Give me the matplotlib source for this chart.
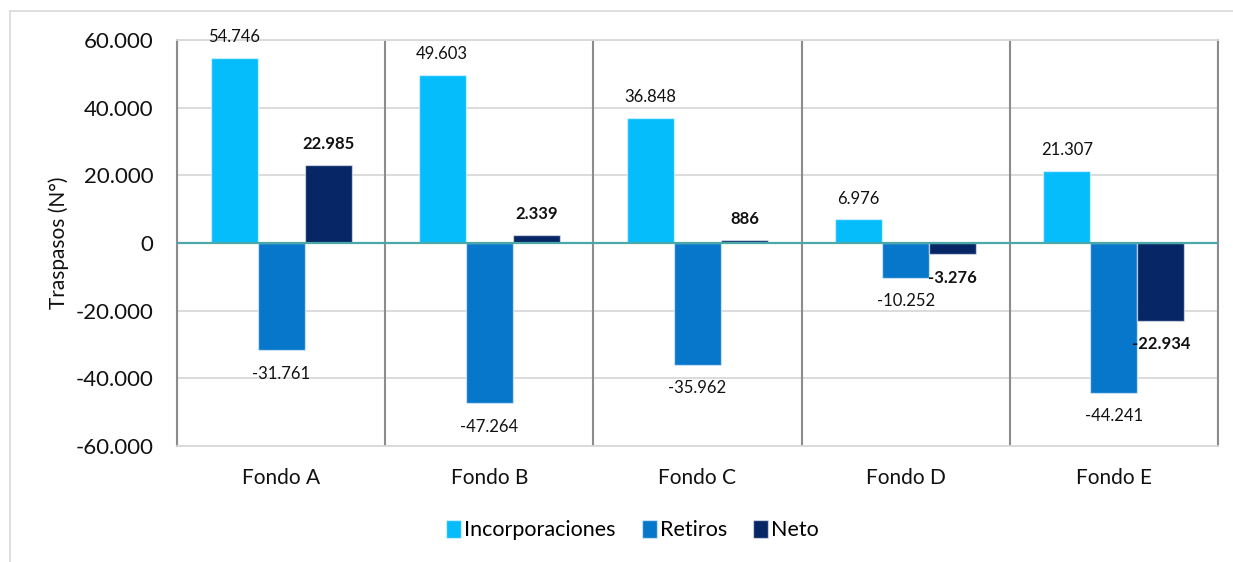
import matplotlib
matplotlib.use("Agg")
import matplotlib.pyplot as plt
from matplotlib.lines import Line2D
import numpy as np

plt.rcParams['font.family'] = ['Lato', 'DejaVu Sans']

# datos
fondos = ['Fondo A', 'Fondo B', 'Fondo C', 'Fondo D', 'Fondo E']
incorporaciones = [54746, 49603, 36848, 6976, 21307]
retiros = [-31761, -47264, -35962, -10252, -44241]
neto = [22985, 2339, 886, -3276, -22934]
y_ticks = [-60000, -40000, -20000, 0, 20000, 40000, 60000]

series = [
    ('Incorporaciones', incorporaciones, '#05BDFB', 'normal'),
    ('Retiros', retiros, '#0677CB', 'normal'),
    ('Neto', neto, '#062666', 'bold'),
]


def miles(v):
    return f"{v:,.0f}".replace(',', '.')


fig = plt.figure(figsize=(12.33, 5.62), dpi=100)
ax = fig.add_axes([177 / 1233, 1 - 446 / 562, 1041 / 1233, 406 / 562])

# marco exterior del gráfico
fig.add_artist(Line2D([10 / 1233, 10 / 1233], [0, 1 - 11 / 562], color='#D9D9D9', lw=1.2))
fig.add_artist(Line2D([10 / 1233, 1], [1 - 11 / 562, 1 - 11 / 562], color='#D9D9D9', lw=1.2))

x = np.arange(len(fondos))
w = 0.226
for i, (nombre, vals, col, peso) in enumerate(series):
    pos = x + (i - 1) * w
    ax.bar(pos, vals, width=w, color=col, edgecolor=(1, 1, 1, 0.55),
           linewidth=1, label=nombre, zorder=3)
    for xb, v in zip(pos, vals):
        off = 15 if v >= 0 else -17
        ax.annotate(miles(v), (xb, v), xytext=(0, off), textcoords='offset points',
                    ha='center', va='center', fontsize=12, fontweight=peso,
                    color='#111111', annotation_clip=False)

ax.axhline(0, color='#4BA8A8', lw=1.6, zorder=4)
for b in np.arange(-0.5, len(fondos), 1.0):
    ax.axvline(b, color='#8C8C8C', lw=1.5, zorder=2)

ax.set_xlim(-0.5, len(fondos) - 0.5)
ax.set_ylim(-60000, 60000)
ax.set_yticks(y_ticks)
ax.set_yticklabels([miles(t) for t in y_ticks])
ax.set_xticks(x)
ax.set_xticklabels(fondos)
ax.yaxis.grid(True, color='#D9D9D9', lw=1.3, zorder=0)
ax.set_axisbelow(True)
ax.tick_params(axis='y', length=0, pad=17, labelsize=16, labelcolor='#111111')
ax.tick_params(axis='x', length=0, pad=16, labelsize=15, labelcolor='#111111')

for s in ['top', 'bottom']:
    ax.spines[s].set_color('#D9D9D9')
    ax.spines[s].set_linewidth(1.3)
for s in ['left', 'right']:
    ax.spines[s].set_color('#8C8C8C')
    ax.spines[s].set_linewidth(1.5)

ax.set_ylabel('Traspasos (N°)', fontsize=15, color='#111111')
ax.yaxis.set_label_coords(-0.104, 0.5)

fig.legend(loc='center', bbox_to_anchor=(0.513, 1 - 530 / 562), ncol=3, frameon=False,
           fontsize=15.5, handlelength=0.7, handleheight=0.9, handletextpad=0.15,
           columnspacing=1.2)

fig.savefig('out.png', dpi=100)
